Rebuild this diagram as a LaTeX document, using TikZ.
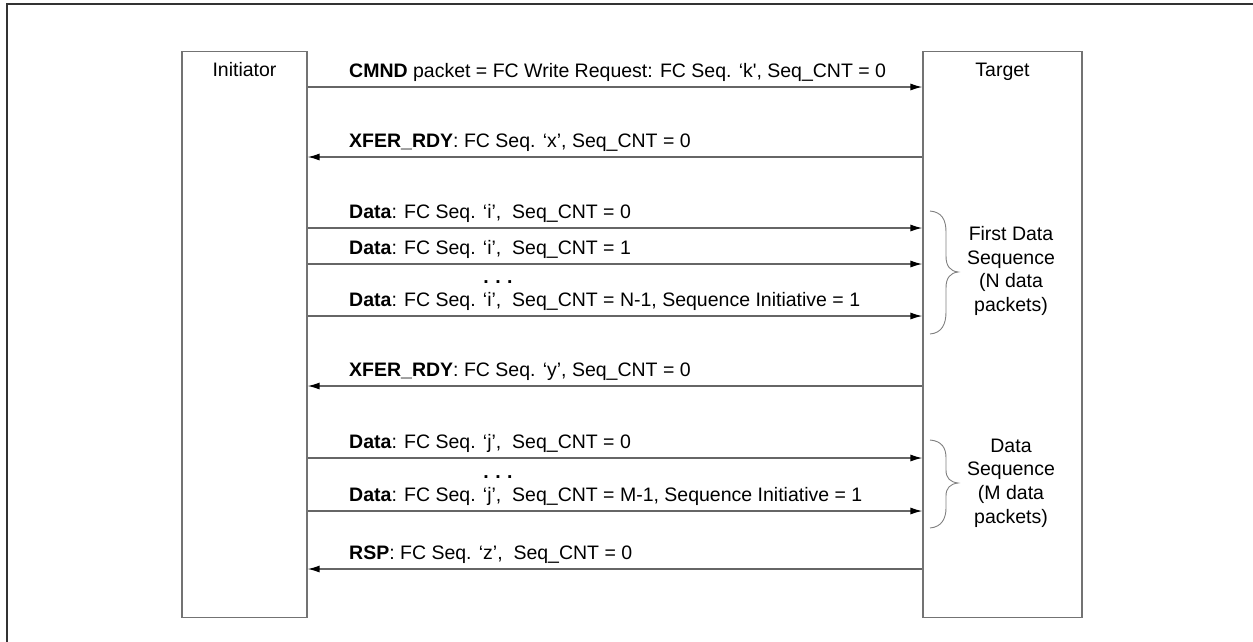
\documentclass[tikz,border=0pt]{standalone}
\usepackage{fontspec}
\setmainfont{Liberation Sans}
\usetikzlibrary{arrows.meta}
\begin{document}
\begin{tikzpicture}[x=1pt,y=-1pt,
  every node/.style={font=\fontsize{19.5}{23}\selectfont, inner sep=0pt},
  frame/.style={draw=black!80, line width=2.2pt},
  actor/.style={draw=black!55, line width=1.2pt, minimum width=125pt, minimum height=566pt},
  msg/.style={draw=black!60, line width=1.3pt, -{Latex[length=12pt,width=7pt,black]}},
  lbl/.style={anchor=base west},
  brc/.style={draw=black!50, line width=0.9pt},
  side/.style={align=center, font=\fontsize{19.5}{23.7}\selectfont}
]
\useasboundingbox (0,0) rectangle (1253,641);
\draw[frame] (7,660) -- (7,4) -- (1270,4);

\node[actor] (I) at (244.5,334.5) {};
\node[actor, minimum width=159pt] (T) at (1002.5,334.5) {};
\node[anchor=base] (Il) at (244.5,76) {Initiator};
\node[anchor=base] (Tl) at (1002.5,76) {Target};

% message rows
\coordinate (m1) at (0,87);
\coordinate (m2) at (0,157);
\coordinate (m3) at (0,228);
\coordinate (m4) at (0,264);
\coordinate (m5) at (0,316);
\coordinate (m6) at (0,386);
\coordinate (m7) at (0,458);
\coordinate (m8) at (0,511);
\coordinate (m9) at (0,569);

\draw[msg] (I.east |- m1) -- (T.west |- m1);
\draw[msg] (T.west |- m2) -- (I.east |- m2);
\draw[msg] (I.east |- m3) -- (T.west |- m3);
\draw[msg] (I.east |- m4) -- (T.west |- m4);
\draw[msg] (I.east |- m5) -- (T.west |- m5);
\draw[msg] (T.west |- m6) -- (I.east |- m6);
\draw[msg] (I.east |- m7) -- (T.west |- m7);
\draw[msg] (I.east |- m8) -- (T.west |- m8);
\draw[msg] (T.west |- m9) -- (I.east |- m9);

\node[lbl] (l1) at (349,77) {\textbf{CMND} packet = FC Write Request: FC Seq. ‘k\textquotesingle, Seq\_CNT = 0};
\node[lbl] (l2) at (349,147) {\textbf{XFER\_RDY}: FC Seq. ‘x’, Seq\_CNT = 0};
\node[lbl] (l3) at (349,218) {\textbf{Data}: FC Seq. ‘i’,~ Seq\_CNT = 0};
\node[lbl] (l4) at (349,254) {\textbf{Data}: FC Seq. ‘i’,~ Seq\_CNT = 1};
\node[anchor=base] (d1) at (498,283) {\textbf{.\,\,.\,\,.}};
\node[lbl] (l5) at (349,306) {\textbf{Data}: FC Seq. ‘i’,~ Seq\_CNT = N-1, Sequence Initiative = 1};
\node[lbl] (l6) at (349,376) {\textbf{XFER\_RDY}: FC Seq. ‘y’, Seq\_CNT = 0};
\node[lbl] (l7) at (349,448) {\textbf{Data}: FC Seq. ‘j’,~ Seq\_CNT = 0};
\node[anchor=base] (d2) at (498,478) {\textbf{.\,\,.\,\,.}};
\node[lbl] (l8) at (349,501) {\textbf{Data}: FC Seq. ‘j’,~ Seq\_CNT = M-1, Sequence Initiative = 1};
\node[lbl] (l9) at (349,559) {\textbf{RSP}: FC Seq. ‘z’,~ Seq\_CNT = 0};

% braces
\draw[brc] (930,211) .. controls (942,212) and (946,220) .. (946,232)
  -- (946,256) .. controls (946,266) and (950,271) .. (958,272)
  .. controls (950,273) and (946,278) .. (946,288)
  -- (946,312) .. controls (946,324) and (942,333) .. (930,334);
\draw[brc] (930,440) .. controls (942,441) and (946,448) .. (946,458)
  -- (946,470) .. controls (946,478) and (950,482) .. (958,483)
  .. controls (950,484) and (946,488) .. (946,496)
  -- (946,508) .. controls (946,518) and (942,527) .. (930,528);

\node[side] (s1) at (1011,271) {First Data\\Sequence\\(N data\\packets)};
\node[side] (s2) at (1011,483) {Data\\Sequence\\(M data\\packets)};
\end{tikzpicture}
\end{document}
